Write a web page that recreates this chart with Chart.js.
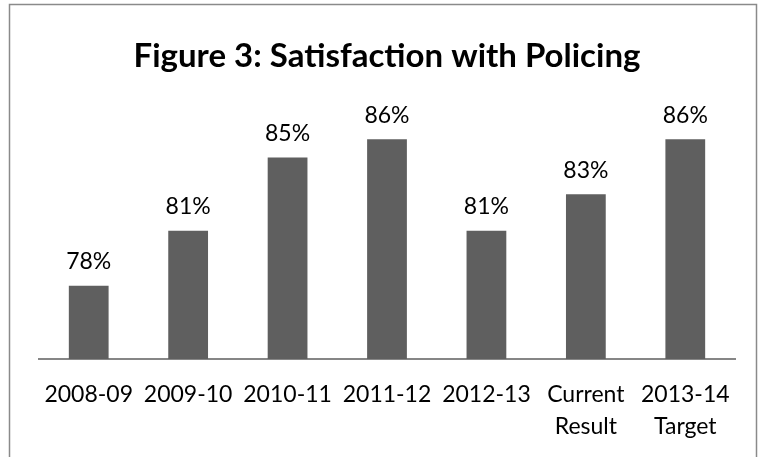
<!DOCTYPE html>
<html>
<head>
<meta charset="utf-8">
<script src="https://cdn.jsdelivr.net/npm/chart.js@4.4.0/dist/chart.umd.min.js"></script>
<style>
html,body{margin:0;padding:0;background:#fff;}
#wrap{position:absolute;left:0;top:0;width:761px;height:457px;}
</style>
</head>
<body>
<div id="wrap"><canvas id="c" width="761" height="457"></canvas></div>
<script>
const categories = ["2008-09", "2009-10", "2010-11", "2011-12", "2012-13", ["Current", "Result"], ["2013-14", "Target"]];
const satisfaction = [78, 81, 85, 86, 81, 83, 86];
const titleText = "Figure 3: Satisfaction with Policing";
const yMin = 74, yMax = 88;

const FONT = "Lato, 'Open Sans', sans-serif";

const frame = {
  id: 'frame',
  beforeDraw(chart) {
    const ctx = chart.ctx;
    ctx.save();
    ctx.fillStyle = '#fff';
    ctx.fillRect(0, 0, chart.width, chart.height);
    ctx.strokeStyle = '#8a8a8a';
    ctx.lineWidth = 1.5;
    ctx.strokeRect(9.5, 4.5, 747, 470);
    ctx.restore();
  }
};

const valueLabels = {
  id: 'valueLabels',
  afterDatasetsDraw(chart) {
    const ctx = chart.ctx;
    const meta = chart.getDatasetMeta(0);
    ctx.save();
    ctx.font = "23px " + FONT;
    ctx.fillStyle = '#000';
    ctx.textAlign = 'center';
    ctx.textBaseline = 'middle';
    meta.data.forEach((bar, i) => {
      ctx.fillText(satisfaction[i] + '%', bar.x, bar.y - 24);
    });
    ctx.restore();
  }
};

new Chart(document.getElementById('c'), {
  type: 'bar',
  data: {
    labels: categories,
    datasets: [{
      data: satisfaction,
      backgroundColor: '#5f5f5f',
      borderWidth: 0,
      barPercentage: 0.8,
      categoryPercentage: 0.5
    }]
  },
  options: {
    responsive: false,
    animation: false,
    devicePixelRatio: 1,
    layout: { padding: { left: 39, right: 26, top: 0, bottom: 0 } },
    plugins: {
      legend: { display: false },
      tooltip: { enabled: false },
      title: {
        display: true,
        text: titleText,
        color: '#000',
        font: { family: FONT, size: 33, weight: 'bold', lineHeight: 1.2 },
        padding: { top: 37, bottom: 26 }
      }
    },
    scales: {
      x: {
        grid: { display: false, drawTicks: false },
        border: { display: true, color: '#868686', width: 2 },
        afterFit(scale) { scale.height = 98; },
        ticks: {
          color: '#000',
          padding: 20,
          maxRotation: 0,
          autoSkip: false,
          font: { family: FONT, size: 23, lineHeight: 1.39 }
        }
      },
      y: {
        display: false,
        min: yMin,
        max: yMax
      }
    }
  },
  plugins: [frame, valueLabels]
});
</script>
</body>
</html>
